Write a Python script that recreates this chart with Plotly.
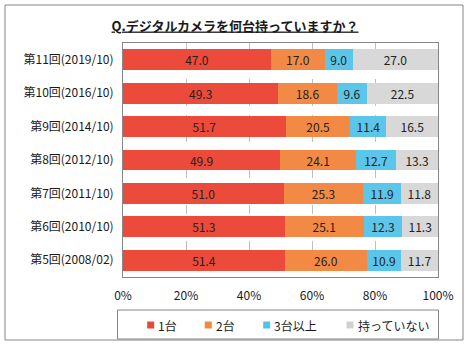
import plotly.graph_objects as go

categories = ["第11回(2019/10)", "第10回(2016/10)", "第9回(2014/10)", "第8回(2012/10)",
              "第7回(2011/10)", "第6回(2010/10)", "第5回(2008/02)"]
one = [47.0, 49.3, 51.7, 49.9, 51.0, 51.3, 51.4]
two = [17.0, 18.6, 20.5, 24.1, 25.3, 25.1, 26.0]
three_plus = [9.0, 9.6, 11.4, 12.7, 11.9, 12.3, 10.9]
none = [27.0, 22.5, 16.5, 13.3, 11.8, 11.3, 11.7]
series_names = ["1台", "2台", "3台以上", "持っていない"]
tick_vals = [0, 20, 40, 60, 80, 100]
tick_text = ["0%", "20%", "40%", "60%", "80%", "100%"]

colors = ["#EC4A3A", "#F28A45", "#5CC6EA", "#D8D8D8"]
legend_colors = ["#E8483A", "#F08A40", "#4FC3EA", "#D0D0D0"]
FONT = "Noto Sans CJK JP"

fig = go.Figure()
for name, vals, c in zip(series_names, [one, two, three_plus, none], colors):
    fig.add_trace(go.Bar(
        y=categories, x=vals, name=name, orientation="h",
        marker=dict(color=c, line=dict(width=0)),
        text=vals, texttemplate="%{x:.1f}", textposition="inside",
        insidetextanchor="middle", textangle=0, constraintext="none",
        textfont=dict(family=FONT, size=12, color="#222222"),
        showlegend=False, hoverinfo="skip",
    ))

L, R, T, B = 123, 32, 43, 73
W, H = 470, 350
pw, ph = W - L - R, H - T - B

def px(x):
    return (x - L) / pw

def py(y):
    return (H - B - y) / ph

shapes = [
    dict(type="rect", xref="paper", yref="paper",
         x0=px(5), x1=px(463), y0=py(340), y1=py(5),
         line=dict(color="#868686", width=1), layer="below"),
    dict(type="rect", xref="paper", yref="paper",
         x0=px(117.5), x1=px(438.5), y0=py(339), y1=py(310),
         line=dict(color="#868686", width=1), layer="below"),
]
annotations = []
# legend (drawn manually to match the reference spacing)
legend_marker_x = [150.7, 208.3, 266.7, 350.0]
legend_y = 325
for name, c, mx in zip(series_names, legend_colors, legend_marker_x):
    shapes.append(dict(type="rect", xref="paper", yref="paper",
                       x0=px(mx - 3.5), x1=px(mx + 3.5),
                       y0=py(legend_y + 3.5), y1=py(legend_y - 3.5),
                       fillcolor=c, line=dict(width=0)))
    annotations.append(dict(text=name, xref="paper", yref="paper",
                            x=px(mx + 5.5), y=py(legend_y), xanchor="left",
                            yanchor="middle", showarrow=False,
                            font=dict(family=FONT, size=12, color="#1a1a1a")))

fig.update_layout(
    width=W, height=H,
    margin=dict(l=L, r=R, t=T, b=B),
    paper_bgcolor="white", plot_bgcolor="white",
    barmode="stack", bargap=0.38, showlegend=False,
    font=dict(family=FONT, size=12, color="#1a1a1a"),
    title=dict(text="<u><b>Q.デジタルカメラを何台持っていますか？</b></u>",
               x=0.5, xanchor="center", y=1 - 26 / H, yanchor="middle",
               font=dict(family=FONT, size=13, color="#1a1a1a")),
    xaxis=dict(range=[0, 100], tickvals=tick_vals, ticktext=tick_text,
               showgrid=True, gridcolor="#BFBFBF", griddash="dash", gridwidth=1,
               showline=True, linecolor="#868686", linewidth=1, mirror=True,
               zeroline=False, ticks="", ticklabelstandoff=8,
               tickfont=dict(family=FONT, size=12, color="#1a1a1a"),
               fixedrange=True),
    yaxis=dict(autorange="reversed", showline=True, linecolor="#868686",
               linewidth=1, mirror=True, ticks="", ticklabelstandoff=6,
               tickfont=dict(family=FONT, size=12, color="#1a1a1a"),
               fixedrange=True),
    shapes=shapes,
    annotations=annotations,
)

fig.write_html("out.html")
